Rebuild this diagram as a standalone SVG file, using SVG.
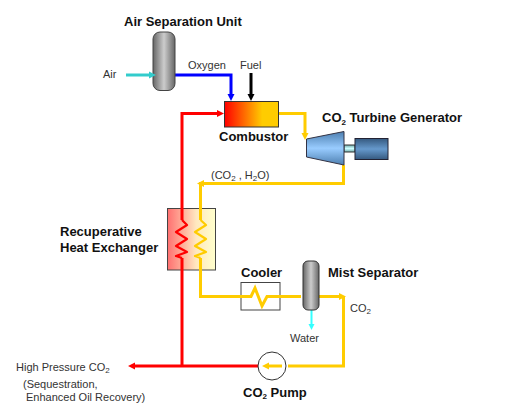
<svg xmlns="http://www.w3.org/2000/svg" width="515" height="408" viewBox="0 0 515 408">
<style>
text{font-family:"Liberation Sans",Arial,sans-serif;font-size:11px;fill:#333}
.b{font-weight:bold;font-size:13px;fill:#111}
.s{font-size:8px}
.f{fill:none;stroke-linejoin:miter}
.y{stroke:#ffcc00;stroke-width:3}
.r{stroke:#ff0000;stroke-width:3}
.z{stroke-width:2.200;stroke-linejoin:round}
</style>
<defs>
<linearGradient id="cyl"><stop offset="0" stop-color="#666"/><stop offset=".5" stop-color="#ccc"/><stop offset="1" stop-color="#666"/></linearGradient>
<linearGradient id="comb"><stop offset="0" stop-color="#ff0000"/><stop offset=".7" stop-color="#ffcc00"/><stop offset="1" stop-color="#ffcc00"/></linearGradient>
<linearGradient id="hx"><stop offset="0" stop-color="#ff7070"/><stop offset=".6" stop-color="#ffe8c0"/><stop offset="1" stop-color="#ffffcc"/></linearGradient>
<linearGradient id="tur" x1="0" y1="0" x2="0" y2="1"><stop offset="0" stop-color="#4d7fb0"/><stop offset=".5" stop-color="#99ccff"/><stop offset="1" stop-color="#4d7fb0"/></linearGradient>
<linearGradient id="sh" x1="0" y1="0" x2="0" y2="1"><stop offset="0" stop-color="#70a8a8"/><stop offset=".5" stop-color="#ccffff"/><stop offset="1" stop-color="#70a8a8"/></linearGradient>
<linearGradient id="gen" x1="0" y1="0" x2="0" y2="1"><stop offset="0" stop-color="#35597f"/><stop offset=".5" stop-color="#6699cc"/><stop offset="1" stop-color="#35597f"/></linearGradient>
</defs>
<g id="hx-box"><rect x="167.500" y="208.500" width="48" height="61.500" fill="url(#hx)" stroke="#444"/></g>
<g id="cooler"><rect x="241" y="282.500" width="39" height="27.500" fill="none" stroke="#444"/></g>
<g id="connectors">
<path class="f" d="M126 75H150" stroke="#33cccc" stroke-width="3"/>
<path class="f" d="M175 75H231V95" stroke="#0000ff" stroke-width="3"/><path d="M231 101l-3.500-7h7z" fill="#0000ff"/>
<path class="f" d="M251 73V95" stroke="#000" stroke-width="3"/><path d="M251 101l-3.500-7h7z" fill="#000"/>
<path class="f r" d="M182 220V113.500H219"/><path d="M224 113.500l-7-3.500v7z" fill="#ff0000"/>
<path class="f r" d="M182 366V258"/>
<path class="f y" d="M279 113.500H305V134"/>
<path class="f y" d="M343.500 165V183.500H200.500V220"/><path d="M197 183.500l7-3.500v7z" fill="#ffcc00"/>
<path class="f y" d="M200.500 258V296.500H251L255 288L262 306L267 296.500H301"/>
<path class="f y" d="M319 296.500H340"/><path d="M346 296.500l-7-3.500v7z" fill="#ffcc00"/>
<path class="f y" d="M343.500 296.500V366H288"/>
<path class="f y" d="M282 366H268"/><path d="M262 366l7-3.500v7z" fill="#ffcc00"/>
<path class="f r" d="M258 366H134"/><path d="M128 366l7-3.500v7z" fill="#ff0000"/>
<path class="f" d="M311.500 310V326" stroke="#33ffff" stroke-width="2"/><path d="M311.500 330l-3-6h6z" fill="#33ffff"/>
</g>
<g id="hx-coils" fill="none">
<path class="z" stroke="#ff0000" d="M182 220L187 225L176 232L187 239L176 246L187 252L176 256L182 258"/>
<path class="z" stroke="#ffcc00" d="M200.500 220L206 225L195 232L206 239L195 246L206 252L195 256L200.500 258"/>
</g>
<g id="asu"><rect x="153" y="32" width="22" height="58.500" rx="7" fill="url(#cyl)" stroke="#444"/>
<path d="M156 75l-7-3.500v7z" fill="#33cccc"/></g>
<g id="combustor"><rect x="224.500" y="101.500" width="54" height="25.500" fill="url(#comb)" stroke="#333"/></g>
<g id="turbine">
<rect x="344" y="145" width="11" height="7" fill="url(#sh)" stroke="#333"/>
<path d="M306.500 139L344 131.500V165L306.500 157z" fill="url(#tur)" stroke="#334"/>
<rect x="355" y="138.500" width="33" height="21" fill="url(#gen)" stroke="#223"/>
<path d="M305 140l-3.500-7h7z" fill="#ffcc00"/>
</g>
<g id="mist"><rect x="303" y="261" width="16" height="49" rx="5" fill="url(#cyl)" stroke="#333"/></g>
<g id="pump"><circle cx="272" cy="366" r="14" fill="none" stroke="#333"/></g>
<g id="labels">
<text class="b" x="124" y="26">Air Separation Unit</text>
<text x="103" y="78">Air</text>
<text x="188" y="69">Oxygen</text>
<text x="240" y="69">Fuel</text>
<text class="b" x="219" y="141">Combustor</text>
<text class="b" x="322" y="122">CO<tspan class="s" dy="3">2</tspan><tspan dy="-3"> Turbine Generator</tspan></text>
<text x="211" y="179">(CO<tspan class="s" dy="2">2</tspan><tspan dy="-2"> , H</tspan><tspan class="s" dy="2">2</tspan><tspan dy="-2">O)</tspan></text>
<text class="b" x="60" y="236">Recuperative</text>
<text class="b" x="60" y="252">Heat Exchanger</text>
<text class="b" x="241" y="277">Cooler</text>
<text class="b" x="328" y="277">Mist Separator</text>
<text x="350" y="312">CO<tspan class="s" dy="2">2</tspan></text>
<text x="290" y="342">Water</text>
<text x="16" y="371">High Pressure CO<tspan class="s" dy="2">2</tspan></text>
<text x="23" y="388">(Sequestration,</text>
<text x="26" y="401">Enhanced Oil Recovery)</text>
<text class="b" x="243" y="397">CO<tspan class="s" dy="2">2</tspan><tspan dy="-2"> Pump</tspan></text>
</g>
</svg>
